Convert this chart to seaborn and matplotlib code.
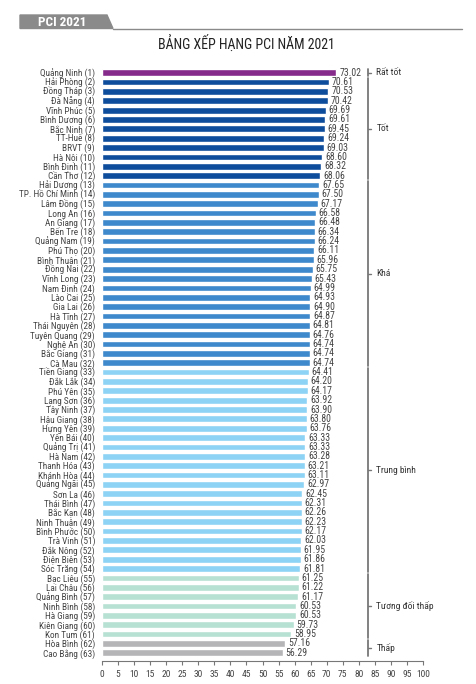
import numpy as np
import pandas as pd
import matplotlib
matplotlib.use('Agg')
import matplotlib.pyplot as plt
import matplotlib.font_manager as fm
from matplotlib.patches import Polygon
import seaborn as sns

provinces = ['Quảng Ninh', 'Hải Phòng', 'Đồng Tháp', 'Đà Nẵng', 'Vĩnh Phúc', 'Bình Dương',
             'Bắc Ninh', 'TT-Huế', 'BRVT', 'Hà Nội', 'Bình Định', 'Cần Thơ',
             'Hải Dương', 'TP. Hồ Chí Minh', 'Lâm Đồng', 'Long An', 'An Giang', 'Bến Tre',
             'Quảng Nam', 'Phú Thọ', 'Bình Thuận', 'Đồng Nai', 'Vĩnh Long', 'Nam Định',
             'Lào Cai', 'Gia Lai', 'Hà Tĩnh', 'Thái Nguyên', 'Tuyên Quang', 'Nghệ An',
             'Bắc Giang', 'Cà Mau', 'Tiền Giang', 'Đắk Lắk', 'Phú Yên', 'Lạng Sơn',
             'Tây Ninh', 'Hậu Giang', 'Hưng Yên', 'Yên Bái', 'Quảng Trị', 'Hà Nam',
             'Thanh Hóa', 'Khánh Hòa', 'Quảng Ngãi', 'Sơn La', 'Thái Bình', 'Bắc Kạn',
             'Ninh Thuận', 'Bình Phước', 'Trà Vinh', 'Đắk Nông', 'Điện Biên', 'Sóc Trăng',
             'Bạc Liêu', 'Lai Châu', 'Quảng Bình', 'Ninh Bình', 'Hà Giang', 'Kiên Giang',
             'Kon Tum', 'Hòa Bình', 'Cao Bằng']
scores = [73.02, 70.61, 70.53, 70.42, 69.69, 69.61, 69.45, 69.24, 69.03, 68.60, 68.32, 68.06,
          67.65, 67.50, 67.17, 66.58, 66.48, 66.34, 66.24, 66.11, 65.96, 65.75, 65.43, 64.99,
          64.93, 64.90, 64.87, 64.81, 64.76, 64.74, 64.74, 64.74, 64.41, 64.20, 64.17, 63.92,
          63.90, 63.80, 63.76, 63.33, 63.33, 63.28, 63.21, 63.11, 62.97, 62.45, 62.31, 62.26,
          62.23, 62.17, 62.03, 61.95, 61.86, 61.81, 61.25, 61.22, 61.17, 60.53, 60.53, 59.73,
          58.95, 57.16, 56.29]
group_names = ['Rất tốt', 'Tốt', 'Khá', 'Trung bình', 'Tương đối thấp', 'Thấp']
group_sizes = [1, 11, 20, 22, 7, 2]
group_colors = ['#862a8c', '#0e4c9c', '#3e88cc', '#8dd3f5', '#b7e2d3', '#b5b5b7']

# pick a narrow font if there is one
font = 'DejaVu Sans'
for f in ['Liberation Sans Narrow', 'Roboto Condensed', 'Roboto']:
    try:
        fm.findfont(f, fallback_to_default=False)
        font = f
        break
    except Exception:
        pass

groups = np.repeat(group_names, group_sizes)
df = pd.DataFrame({
    'label': [f'{p} ({i + 1})' for i, p in enumerate(provinces)],
    'pci': scores,
    'group': groups,
})

sns.set_style('white')
plt.rcParams['font.family'] = [font, 'DejaVu Sans']

fig = plt.figure(figsize=(4.76, 6.84), dpi=100)
ax = fig.add_axes([102 / 476, (684 - 660.7) / 684, 321 / 476, 593.6 / 684])

sns.barplot(data=df, x='pci', y='label', hue='group', hue_order=group_names,
            palette=group_colors, dodge=False, width=0.72, orient='h',
            legend=False, saturation=1, ax=ax)

for c in ax.containers:
    ax.bar_label(c, fmt='%.2f', padding=2, fontsize=7, color='#444444')

ax.set_xlim(0, 100)
ax.set_ylim(62.85, -0.6)
ax.set_xticks(np.arange(0, 101, 5))
ax.tick_params(axis='x', length=3, width=0.8, color='#777777', labelsize=6.8,
               labelcolor='#444444', pad=4, bottom=True)
ax.tick_params(axis='y', length=0, labelsize=6.7, labelcolor='#444444', pad=5)
ax.set_xlabel('')
ax.set_ylabel('')
for s in ['top', 'right', 'left']:
    ax.spines[s].set_visible(False)
ax.spines['bottom'].set_color('#777777')
ax.spines['bottom'].set_linewidth(0.8)

# group brackets on the right
start = 0
for name, n in zip(group_names, group_sizes):
    y0, y1 = start - 0.4, start + n - 1 + 0.4
    mid = (y0 + y1) / 2
    ax.plot([83, 83], [y0, y1], color='#777777', lw=1.3, clip_on=False)
    ax.plot([83, 83.7], [mid, mid], color='#777777', lw=1, clip_on=False)
    ax.text(85.5, mid, name, va='center', ha='left', fontsize=6.8, color='#333333')
    start += n

# header badge and title
badge = Polygon([[20 / 476, 1 - 15 / 684], [107 / 476, 1 - 15 / 684],
                 [113 / 476, 1 - 28.5 / 684], [20 / 476, 1 - 28.5 / 684]],
                closed=True, transform=fig.transFigure, color='#8a8a8a')
fig.patches.append(badge)
fig.add_artist(plt.Line2D([113 / 476, 462 / 476], [1 - 28.5 / 684, 1 - 28.5 / 684],
                          transform=fig.transFigure, color='#8a8a8a', lw=1))
fig.text(62 / 476, 1 - 22 / 684, 'PCI 2021', color='white', fontsize=9.5,
         fontweight='bold', ha='center', va='center')
fig.text(246 / 476, 1 - 44 / 684, 'BẢNG XẾP HẠNG PCI NĂM 2021', fontsize=10,
         color='#222222', ha='center', va='center')

fig.savefig('out.png', dpi=100)
